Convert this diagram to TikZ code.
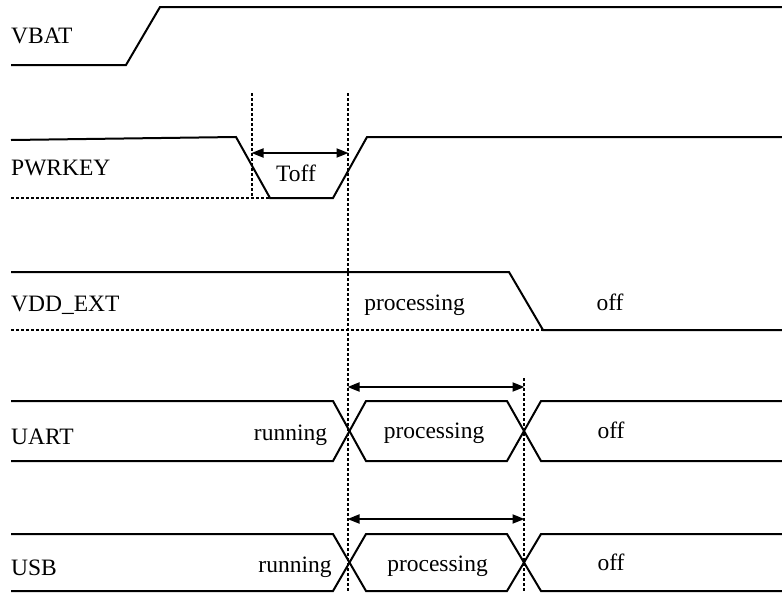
\documentclass[tikz,border=0pt]{standalone}
\usepackage{fontspec}
\setmainfont{Liberation Serif}
\usetikzlibrary{arrows.meta}
\begin{document}
\begin{tikzpicture}[x=1pt,y=-1pt,
  wave/.style={line width=2pt,line join=miter},
  guide/.style={line width=1.4pt,dash pattern=on 3pt off 2pt},
  span/.style={line width=1.9pt,{Triangle[length=12pt,width=9pt]}-{Triangle[length=12pt,width=9pt]},shorten <=-0.5pt,shorten >=-0.5pt},
  lbl/.style={inner sep=0pt,anchor=base west,font=\fontsize{23.5}{28}\selectfont},
  txt/.style={inner sep=0pt,anchor=base,font=\fontsize{23.5}{28}\selectfont}]
\useasboundingbox (0,0) rectangle (782,592);

% signal names
\node[lbl] (nVBAT)  at (11,43)  {VBAT};
\node[lbl] (nPWR)   at (11,175) {PWRKEY};
\node[lbl] (nVDD)   at (11,311) {VDD\_EXT};
\node[lbl] (nUART)  at (11,444) {UART};
\node[lbl] (nUSB)   at (11,575) {USB};

% VBAT rises
\draw[wave] (11,65) -- (126,65) -- (160,7) -- (782,7);

% PWRKEY pulse
\draw[wave] (11,140) -- (236,137) -- (270,198) -- (333,198) -- (367,137) -- (782,137);
\draw[guide] (11,198) -- (270,198);

% VDD_EXT falls
\draw[wave] (11,272) -- (509,272) -- (543,330) -- (782,330);
\draw[guide] (11,330) -- (543,330);

% UART bus
\draw[wave] (11,401) -- (333,401) -- (366,461) -- (507,461) -- (541,401) -- (782,401);
\draw[wave] (11,461) -- (333,461) -- (366,401) -- (507,401) -- (541,461) -- (782,461);

% USB bus
\draw[wave] (11,534) -- (333,534) -- (366,591) -- (507,591) -- (541,534) -- (782,534);
\draw[wave] (11,591) -- (333,591) -- (366,534) -- (507,534) -- (541,591) -- (782,591);

% timing guides
\coordinate (g1t) at (252,93);  \coordinate (g1b) at (252,198);
\coordinate (g2t) at (348,93);  \coordinate (g2b) at (348,591);
\coordinate (g3t) at (524,378); \coordinate (g3b) at (524,591);
\draw[guide] (g1t) -- (g1b);
\draw[guide] (g2t) -- (g2b);
\draw[guide] (g3t) -- (g3b);

% intervals
\coordinate (a1l) at (252,153); \coordinate (a1r) at (348,153);
\coordinate (a2l) at (348,387); \coordinate (a2r) at (524,387);
\coordinate (a3l) at (348,519); \coordinate (a3r) at (524,519);
\draw[span] (a1l) -- (a1r);
\draw[span] (a2l) -- (a2r);
\draw[span] (a3l) -- (a3r);

% state labels
\node[txt] (tToff)  at (296,181)   {Toff};
\node[txt] (tVp)    at (414.5,310) {processing};
\node[txt] (tVo)    at (610,310)   {off};
\node[txt] (tUr)    at (290.5,440) {running};
\node[txt] (tUp)    at (434,438)   {processing};
\node[txt] (tUo)    at (611,438)   {off};
\node[txt] (tSr)    at (295,572)   {running};
\node[txt] (tSp)    at (437.5,571) {processing};
\node[txt] (tSo)    at (611,570)   {off};
\end{tikzpicture}
\end{document}
